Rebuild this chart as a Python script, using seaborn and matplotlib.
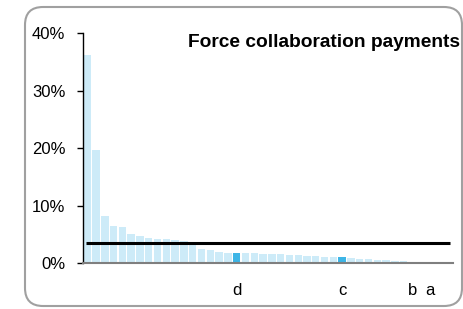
import pandas as pd
import matplotlib.pyplot as plt
import seaborn as sns
from matplotlib.patches import FancyBboxPatch

sns.set_style('white')
plt.rcParams['font.family'] = ['Liberation Sans', 'DejaVu Sans']
plt.rcParams['text.color'] = 'black'
plt.rcParams['xtick.color'] = 'black'
plt.rcParams['ytick.color'] = 'black'

# share of payments per firm, sorted (percent)
shares = [36.3, 19.7, 8.3, 6.4, 6.3, 5.15, 4.75, 4.4, 4.15, 4.15,
          4.05, 3.9, 3.3, 2.4, 2.3, 2.0, 1.75, 1.75, 1.7, 1.7,
          1.65, 1.6, 1.6, 1.45, 1.4, 1.3, 1.25, 1.15, 1.15, 1.1,
          0.85, 0.75, 0.75, 0.6, 0.55, 0.45, 0.4, 0.1, 0, 0,
          0, 0]
average = 3.5
marked = {17: 'd', 29: 'c', 37: 'b', 39: 'a'}
highlight = [17, 29]
dark = [37]

light_col = '#cdebf8'
hi_col = '#3db5e6'
dark_col = '#1d6f8c'

df = pd.DataFrame({'pos': range(len(shares)), 'share': shares})
palette = []
for i in df['pos']:
    if i in dark:
        palette.append(dark_col)
    elif i in highlight:
        palette.append(hi_col)
    else:
        palette.append(light_col)

fig = plt.figure(figsize=(4.64, 3.09), dpi=100)
ax = fig.add_axes([0.1795, 0.148, 0.7975, 0.744])

sns.barplot(data=df, x='pos', y='share', hue='pos', palette=palette,
            legend=False, width=0.84, saturation=1, linewidth=0,
            edgecolor='none', ax=ax)

ax.hlines(average, -0.1, 41.3, color='black', lw=2.2, zorder=5)

ax.set_xlim(-0.45, 41.65)
ax.set_ylim(0, 40)
ax.set_yticks([0, 10, 20, 30, 40])
ax.set_yticklabels([f'{v}%' for v in [0, 10, 20, 30, 40]], fontsize=12)
ax.set_xticks(list(marked.keys()))
ax.set_xticklabels(list(marked.values()), fontsize=12)
ax.tick_params(axis='x', length=0, pad=14)
ax.tick_params(axis='y', length=4, width=1, color='black', pad=9, left=True)
ax.set_xlabel('')
ax.set_ylabel('')

for s in ['top', 'right']:
    ax.spines[s].set_visible(False)
ax.spines['left'].set_color('black')
ax.spines['left'].set_linewidth(1)
ax.spines['bottom'].set_color('#7f7f7f')
ax.spines['bottom'].set_linewidth(1.5)

ax.text(0.65, 0.962, 'Force collaboration payments', transform=ax.transAxes,
        ha='center', va='center', fontsize=13.8, fontweight='bold')

frame = FancyBboxPatch((0.25, 0.03), 4.37, 2.99,
                       boxstyle='round,pad=0,rounding_size=0.18',
                       transform=fig.dpi_scale_trans, fill=False,
                       edgecolor='#a0a0a0', lw=1.5)
fig.patches.append(frame)

plt.savefig('out.png', dpi=100)
